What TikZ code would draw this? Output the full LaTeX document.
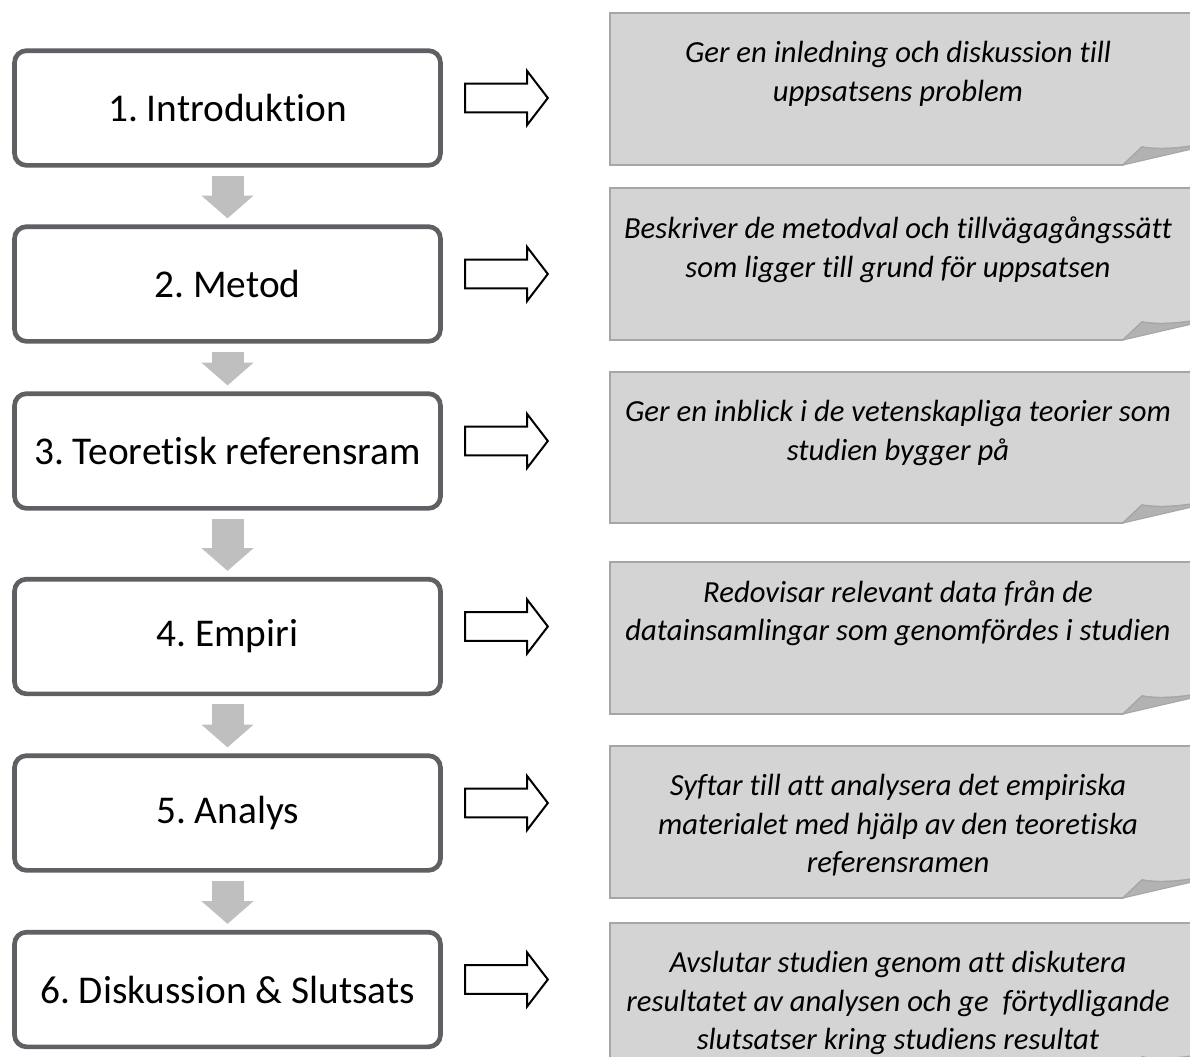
\documentclass[tikz,border=0pt]{standalone}
\usepackage{fontspec}
\setmainfont{Carlito}[Ligatures=NoCommon]
\frenchspacing
\usetikzlibrary{positioning,shapes.arrows,arrows.meta}

\definecolor{boxline}{RGB}{95,95,100}
\definecolor{flowgray}{RGB}{191,191,191}
\definecolor{notefill}{RGB}{212,212,212}
\definecolor{noteline}{RGB}{166,166,166}
\definecolor{foldfill}{RGB}{178,178,178}

\tikzset{
  stepbox/.style={draw=boxline, line width=3.5pt, rounded corners=9pt, fill=white,
    minimum width=319.5pt, minimum height=86pt, inner sep=0pt,
    font=\fontsize{29.5}{36}\selectfont},
  flowarr/.style={draw=flowgray, line width=24pt,
    -{Triangle[width=39pt,length=17pt,line width=0pt]}},
  sidearr/.style={single arrow, draw=black, line width=1.5pt, fill=white,
    minimum height=62pt, single arrow head extend=9.4pt,
    single arrow tip angle=105, inner xsep=0pt, inner ysep=10.1pt},
  notetext/.style={anchor=north, align=center, inner sep=0pt,
    font=\itshape\fontsize{23}{29}\selectfont},
  note/.style={draw=noteline, line width=1.2pt, fill=notefill},
  fold/.style={draw=noteline, line width=0.8pt, fill=foldfill}
}

\begin{document}
\begin{tikzpicture}[x=0.75pt,y=0.75pt,yscale=-1,xscale=1]
\useasboundingbox (0,0) rectangle (1190,1057);
\clip (0,0) rectangle (1190,1057);

%Shape: Note 1
\draw[note] (610,13) -- (1192,13) -- (1192,146) .. controls (1170,149.5) and (1152,149) .. (1142,147) -- (1123,165) -- (610,165) -- cycle;
\draw[fold] (1123,165) -- (1142,147) .. controls (1152,149) and (1170,149.5) .. (1192,146) -- (1192,149) -- cycle;
%Shape: Note 2
\draw[note] (610,188) -- (1192,188) -- (1192,321) .. controls (1170,324.5) and (1152,324) .. (1142,322) -- (1123,340) -- (610,340) -- cycle;
\draw[fold] (1123,340) -- (1142,322) .. controls (1152,324) and (1170,324.5) .. (1192,321) -- (1192,324) -- cycle;
%Shape: Note 3
\draw[note] (610,372) -- (1192,372) -- (1192,504) .. controls (1170,507.5) and (1152,507) .. (1142,505) -- (1123,523) -- (610,523) -- cycle;
\draw[fold] (1123,523) -- (1142,505) .. controls (1152,507) and (1170,507.5) .. (1192,504) -- (1192,507) -- cycle;
%Shape: Note 4
\draw[note] (610,562) -- (1192,562) -- (1192,695) .. controls (1170,698.5) and (1152,698) .. (1142,696) -- (1123,714) -- (610,714) -- cycle;
\draw[fold] (1123,714) -- (1142,696) .. controls (1152,698) and (1170,698.5) .. (1192,695) -- (1192,698) -- cycle;
%Shape: Note 5
\draw[note] (610,746) -- (1192,746) -- (1192,879) .. controls (1170,882.5) and (1152,882) .. (1142,880) -- (1123,898) -- (610,898) -- cycle;
\draw[fold] (1123,898) -- (1142,880) .. controls (1152,882) and (1170,882.5) .. (1192,879) -- (1192,882) -- cycle;
%Shape: Note 6
\draw[note] (610,923) -- (1192,923) -- (1192,1056) .. controls (1170,1059.5) and (1152,1059) .. (1142,1057) -- (1123,1075) -- (610,1075) -- cycle;
\draw[fold] (1123,1075) -- (1142,1057) .. controls (1152,1059) and (1170,1059.5) .. (1192,1056) -- (1192,1059) -- cycle;

% Text Node
\node[notetext] (t1) at (898,41) {Ger en inledning och diskussion till\\uppsatsens problem};
% Text Node
\node[notetext] (t2) at (898,217) {Beskriver de metodval och tillvägagångssätt\\som ligger till grund för uppsatsen};
% Text Node
\node[notetext] (t3) at (898,400) {Ger en inblick i de vetenskapliga teorier som\\studien bygger på};
% Text Node
\node[notetext] (t4) at (898,580) {Redovisar relevant data från de\\datainsamlingar som genomfördes i studien};
% Text Node
\node[notetext] (t5) at (898,774) {Syftar till att analysera det empiriska\\materialet med hjälp av den teoretiska\\referensramen};
% Text Node
\node[notetext] (t6) at (898,951) {Avslutar studien genom att diskutera\\resultatet av analysen och ge~ förtydligande\\slutsatser kring studiens resultat};

%Steps
\node[stepbox] (b1) at (227.5,108) {1. Introduktion};
\node[stepbox] (b2) at (227.5,284) {2. Metod};
\node[stepbox] (b3) at (227.5,451) {3. Teoretisk referensram};
\node[stepbox] (b4) at (227.5,636.5) {4. Empiri};
\node[stepbox] (b5) at (227.5,813) {5. Analys};
\node[stepbox] (b6) at (227.5,989.5) {6. Diskussion \& Slutsats};

%Down Arrows
\draw[flowarr] ([yshift=6pt]b1.south) -- ([yshift=-4.5pt]b2.north);
\draw[flowarr] ([yshift=6pt]b2.south) -- ([yshift=-4.5pt]b3.north);
\draw[flowarr] ([yshift=6pt]b3.south) -- ([yshift=-4.5pt]b4.north);
\draw[flowarr] ([yshift=6pt]b4.south) -- ([yshift=-4.5pt]b5.north);
\draw[flowarr] ([yshift=6pt]b5.south) -- ([yshift=-4.5pt]b6.north);

%Right Arrows
\node[sidearr, right=16pt of b1, yshift=7.5pt] (r1) {};
\node[sidearr, right=16pt of b2, yshift=7.5pt] (r2) {};
\node[sidearr, right=16pt of b3, yshift=7.5pt] (r3) {};
\node[sidearr, right=16pt of b4, yshift=7.5pt] (r4) {};
\node[sidearr, right=16pt of b5, yshift=7.5pt] (r5) {};
\node[sidearr, right=16pt of b6, yshift=7.5pt] (r6) {};

\end{tikzpicture}
\end{document}
